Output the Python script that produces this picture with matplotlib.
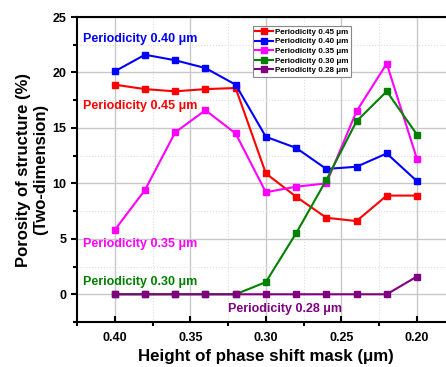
import numpy as np
import matplotlib
matplotlib.use("Agg")
import matplotlib.pyplot as plt
from matplotlib.ticker import MultipleLocator

plt.rcParams['font.family'] = ['Liberation Sans', 'DejaVu Sans']
plt.rcParams['font.weight'] = 'bold'
plt.rcParams['mathtext.default'] = 'regular'

# data
height = [0.40, 0.38, 0.36, 0.34, 0.32, 0.30, 0.28, 0.26, 0.24, 0.22, 0.20]
p045 = [18.9, 18.5, 18.3, 18.5, 18.6, 10.9, 8.8, 6.9, 6.6, 8.9, 8.9]
p040 = [20.1, 21.6, 21.1, 20.4, 18.9, 14.2, 13.2, 11.3, 11.5, 12.7, 10.2]
p035 = [5.8, 9.4, 14.6, 16.6, 14.5, 9.2, 9.7, 10.0, 16.5, 20.8, 12.2]
p030 = [0, 0, 0, 0, 0, 1.1, 5.5, 10.3, 15.6, 18.3, 14.4]
p028 = [0, 0, 0, 0, 0, 0, 0, 0, 0, 0, 1.6]

series = [
    ('Periodicity 0.45 \u03bcm', p045, '#ff0000'),
    ('Periodicity 0.40 \u03bcm', p040, '#0000ff'),
    ('Periodicity 0.35 \u03bcm', p035, '#ff00ff'),
    ('Periodicity 0.30 \u03bcm', p030, '#008000'),
    ('Periodicity 0.28 \u03bcm', p028, '#800080'),
]

fig = plt.figure(figsize=(4.46, 3.67), dpi=100)
ax = fig.add_axes([0.1726, 0.1226, 0.847, 0.831])

for label, vals, col in series:
    ax.plot(height, vals, '-s', color=col, lw=1.5, ms=5, label=label)

ax.set_xlim(0.425, 0.175)
ax.set_ylim(-2.5, 25)
ax.xaxis.set_major_locator(MultipleLocator(0.05))
ax.xaxis.set_minor_locator(MultipleLocator(0.025))
ax.yaxis.set_major_locator(MultipleLocator(5))
ax.yaxis.set_minor_locator(MultipleLocator(2.5))
ax.set_xticks([0.40, 0.35, 0.30, 0.25, 0.20])
ax.set_xticklabels(['0.40', '0.35', '0.30', '0.25', '0.20'])

ax.grid(which='major', color='#c8c8c8', lw=1.0, ls='-')
ax.grid(which='minor', color='#dddddd', lw=0.8, ls=':')
ax.set_axisbelow(True)

ax.tick_params(axis='x', which='major', direction='in', length=4, width=1.5, labelsize=9, pad=7)
ax.tick_params(axis='x', which='minor', direction='out', length=3, width=1.5)
ax.tick_params(axis='y', which='major', direction='out', length=4, width=1.5, labelsize=9)
ax.tick_params(axis='y', which='minor', direction='out', length=3, width=1.5)
for s in ax.spines.values():
    s.set_linewidth(1.5)

ax.set_xlabel('Height of phase shift mask (\u03bcm)', fontsize=12.2, fontweight='bold', labelpad=4)
ax.set_ylabel('Porosity of structure (%)\n(Two-dimension)', fontsize=12, fontweight='bold', labelpad=3)

txt = [
    (0.421, 22.5, 'Periodicity 0.40 \u03bcm', '#0000ff'),
    (0.421, 16.4, 'Periodicity 0.45 \u03bcm', '#ff0000'),
    (0.421, 4.0, 'Periodicity 0.35 \u03bcm', '#ff00ff'),
    (0.421, 0.55, 'Periodicity 0.30 \u03bcm', '#008000'),
    (0.325, -1.9, 'Periodicity 0.28 \u03bcm', '#800080'),
]
for x, y, t, c in txt:
    ax.text(x, y, t, color=c, fontsize=9, fontweight='bold', ha='left', va='bottom')

leg = ax.legend(loc='upper left', bbox_to_anchor=(0.455, 0.985), fontsize=5.8,
                frameon=True, fancybox=False, edgecolor='#888888', framealpha=1,
                handlelength=2.2, handletextpad=0.3, borderpad=0.3, labelspacing=0.25,
                markerscale=0.85)
leg.get_frame().set_linewidth(0.8)

fig.savefig('out.png', dpi=100)
